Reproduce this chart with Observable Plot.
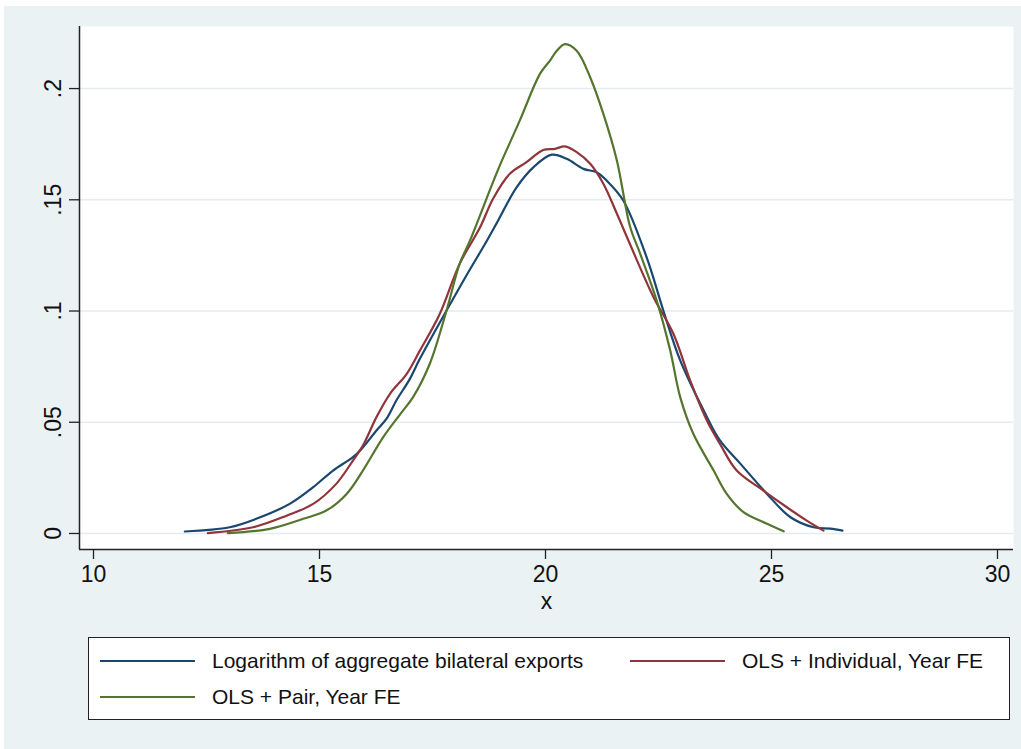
<!DOCTYPE html>
<html>
<head>
<meta charset="utf-8">
<script src="https://cdn.jsdelivr.net/npm/d3@7"></script>
<script src="https://cdn.jsdelivr.net/npm/@observablehq/plot@0.6"></script>
<style>
  html, body { margin: 0; padding: 0; background: #ffffff; }
  #wrap { position: absolute; left: 4px; top: 6px; width: 1017px; height: 743px; background: #eaf2f3; overflow: hidden; }
  #chart { position: absolute; left: -4px; top: -6px; }
  #legend { position: absolute; left: 84px; top: 631px; width: 920px; height: 81px; border: 1px solid #222; background: #fff;
            font-family: "Liberation Sans", Arial, sans-serif; font-size: 21px; color: #111; }
  .item { position: absolute; display: flex; align-items: center; }
  .swatch { width: 95px; height: 0; border-top: 2px solid; margin-right: 17px; }
</style>
</head>
<body>
<div id="wrap">
  <div id="chart"></div>
  <div id="legend"></div>
</div>
<script>
// Series names and colours
const seriesNames = ["Logarithm of aggregate bilateral exports", "OLS + Individual, Year FE", "OLS + Pair, Year FE"];
const seriesColors = ["#1a476f", "#90353b", "#55752f"];

// Kernel density curves
const blueX = [12.02,13.01,13.6,14.34,14.86,15.3,15.74,15.93,16.26,16.48,16.7,17.0,17.22,17.81,18.25,18.7,18.92,19.36,19.73,20.14,20.47,20.84,21.13,21.35,21.72,22.24,22.61,22.98,23.5,23.86,24.31,24.9,25.42,25.93,26.3,26.57];
const blueY = [0.0009,0.0028,0.0066,0.0133,0.0208,0.0283,0.0343,0.038,0.0463,0.0515,0.0598,0.0695,0.0785,0.1002,0.116,0.1315,0.1395,0.1556,0.1646,0.1703,0.1684,0.1639,0.1624,0.1587,0.1497,0.124,0.100,0.0778,0.0553,0.0418,0.0314,0.0178,0.0073,0.0028,0.0022,0.0013];

const redX = [12.53,13.53,14.27,14.86,15.37,15.74,15.96,16.26,16.56,16.93,17.22,17.66,18.1,18.55,18.84,19.21,19.58,19.95,20.21,20.43,20.69,20.99,21.28,21.58,21.87,22.39,22.83,23.2,23.57,23.86,24.23,24.82,25.34,25.78,26.15];
const redY = [0.0002,0.0028,0.008,0.0133,0.0223,0.0328,0.0395,0.0523,0.0628,0.0718,0.0822,0.0987,0.1212,0.1375,0.1505,0.1617,0.1669,0.1724,0.1729,0.174,0.1714,0.1662,0.1572,0.1437,0.130,0.1062,0.0898,0.0688,0.0508,0.0403,0.0283,0.0193,0.0118,0.0058,0.0013];

const greenX = [12.97,13.9,14.64,15.15,15.6,15.96,16.41,16.8,17.07,17.44,17.81,18.1,18.33,18.81,18.99,19.43,19.88,20.1,20.25,20.43,20.69,20.99,21.28,21.58,21.87,22.09,22.46,22.76,22.98,23.27,23.72,24.01,24.38,24.9,25.27];
const greenY = [0.0002,0.0021,0.0066,0.0103,0.0178,0.0283,0.0433,0.054,0.0613,0.0763,0.1002,0.1212,0.1317,0.1565,0.1655,0.1856,0.2067,0.2126,0.217,0.220,0.217,0.205,0.1886,0.1676,0.138,0.126,0.1047,0.0822,0.0613,0.0448,0.0283,0.0178,0.0096,0.0044,0.001];

// Axis ticks
const xTicks = [10, 15, 20, 25, 30];
const yTicks = [0, 0.05, 0.1, 0.15, 0.2];
const yTickLabels = ["0", ".05", ".1", ".15", ".2"];
const xLabel = "x";

const seriesX = [blueX, redX, greenX];
const seriesY = [blueY, redY, greenY];
const rows = [];
seriesNames.forEach((name, i) => {
  seriesX[i].forEach((x, j) => rows.push({series: name, x, y: seriesY[i][j]}));
});

const xDomain = [9.69, 30.354];
const yDomain = [-0.0072, 0.2279];
const font = "'Liberation Sans', Arial, sans-serif";

const chart = Plot.plot({
  width: 1021,
  height: 625,
  marginLeft: 79,
  marginRight: 8,
  marginTop: 26,
  marginBottom: 76,
  style: {background: "transparent", fontFamily: font, fontSize: "23px", color: "#111"},
  x: {domain: xDomain},
  y: {domain: yDomain},
  color: {domain: seriesNames, range: seriesColors},
  marks: [
    Plot.frame({fill: "white", stroke: null}),
    Plot.gridY(yTicks, {stroke: "#e4ecee", strokeOpacity: 1, strokeWidth: 1.6}),
    Plot.line(rows, {x: "x", y: "y", z: "series", stroke: "series", strokeWidth: 2.2, curve: "catmull-rom"}),
    Plot.axisX(xTicks, {tickSize: 10, tickPadding: 6, fontSize: 23, stroke: "#222", strokeWidth: 1.3, label: null, fill: "#111"}),
    Plot.axisY(yTicks, {tickSize: 10, tickPadding: 9, tickRotate: -90, tickFormat: (d) => yTickLabels[yTicks.indexOf(d)], fontSize: 23, stroke: "#222", strokeWidth: 1.3, label: null, fill: "#111"}),
    Plot.ruleY([yDomain[0]], {stroke: "#222", strokeWidth: 1.5}),
    Plot.ruleX([xDomain[0]], {stroke: "#222", strokeWidth: 1.5}),
    Plot.text([xLabel], {frameAnchor: "bottom", dy: 59, fontSize: 23, fill: "#111"})
  ]
});
document.getElementById("chart").appendChild(chart);

// Legend
const legend = document.getElementById("legend");
const pos = [{left: 11, top: 11}, {left: 541, top: 11}, {left: 11, top: 47}];
seriesNames.forEach((name, i) => {
  const it = document.createElement("div");
  it.className = "item";
  it.style.left = pos[i].left + "px";
  it.style.top = pos[i].top + "px";
  const sw = document.createElement("div");
  sw.className = "swatch";
  sw.style.borderTopColor = seriesColors[i];
  const tx = document.createElement("span");
  tx.textContent = name;
  it.appendChild(sw);
  it.appendChild(tx);
  legend.appendChild(it);
});
</script>
</body>
</html>
